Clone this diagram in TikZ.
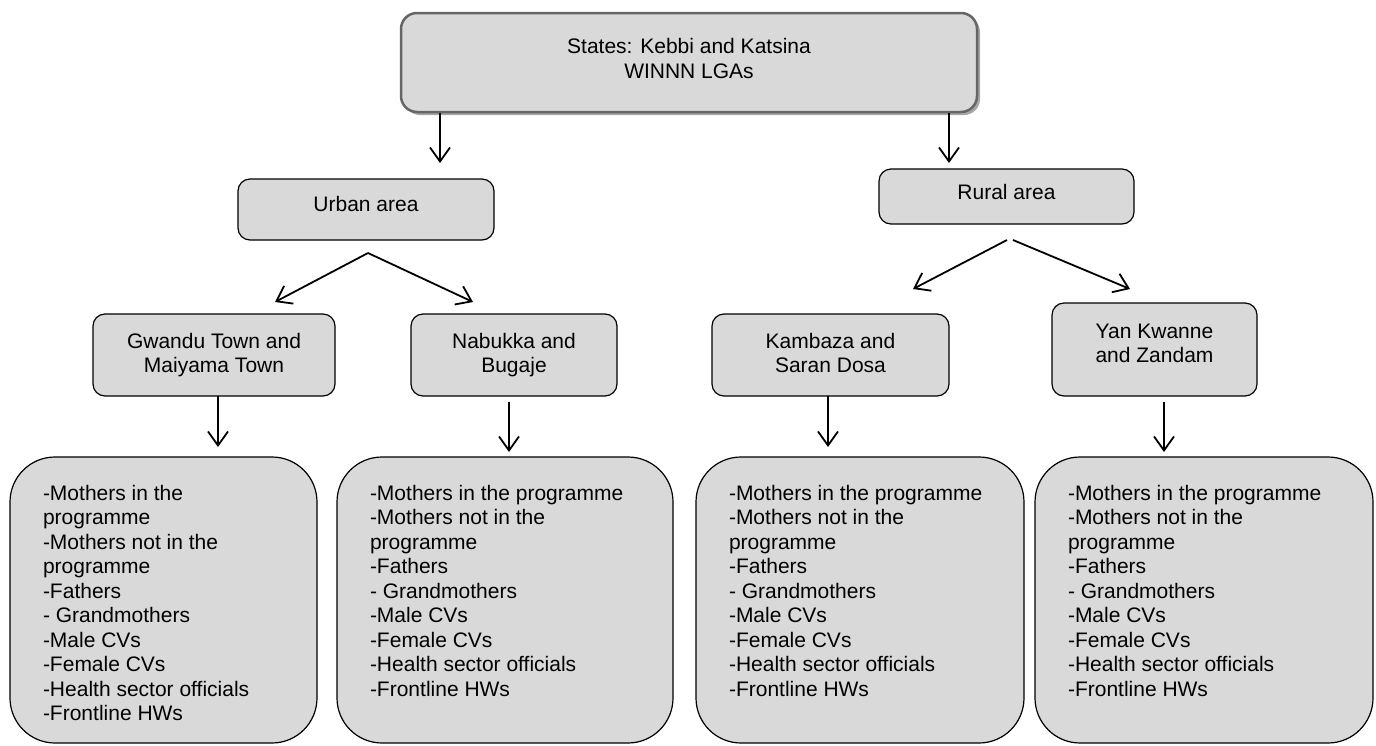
\documentclass[tikz,border=0pt]{standalone}
\usepackage{fontspec}
\setmainfont{Liberation Sans}
\usetikzlibrary{arrows.meta,shadows}
\definecolor{boxfill}{HTML}{D9D9D9}
\definecolor{topline}{HTML}{666666}
\definecolor{shadowc}{HTML}{A6A6A6}
\begin{document}
\begin{tikzpicture}[x=1pt,y=-1pt,
  every node/.style={font=\fontsize{21}{24.5}\selectfont, inner sep=0pt, outer sep=0pt},
  smallbox/.style={draw=black, line width=1.2pt, fill=boxfill, rounded corners=12pt},
  topbox/.style={draw=topline, line width=2.5pt, fill=boxfill, rounded corners=16pt},
  bigbox/.style={draw=black, line width=1.2pt, fill=boxfill, rounded corners=45pt},
  lbl/.style={align=center},
  lst/.style={align=left, anchor=north west},
  arr/.style={line width=1.8pt, -{Straight Barb[length=14pt,width=20pt,line width=1.8pt]}}
]
\useasboundingbox (0,0) rectangle (1376,745);

% shadow of the top box
\fill[shadowc, rounded corners=16pt] (404,16) rectangle (980,115);
% top box
\node[topbox, minimum width=576pt, minimum height=99pt, anchor=north west] (top) at (401,13) {};
\node[lbl] (toptxt) at (689,61.1) {\strut States: Kebbi and Katsina\\\strut WINNN LGAs};

% second level
\node[smallbox, minimum width=256pt, minimum height=61pt, anchor=north west] (urban) at (238,179) {};
\node[lbl] (urbantxt) at (366,206.6) {\strut Urban area};
\node[smallbox, minimum width=255pt, minimum height=55pt, anchor=north west] (rural) at (879,169) {};
\node[lbl] (ruraltxt) at (1006.5,194.6) {\strut Rural area};

% third level
\node[smallbox, minimum width=242pt, minimum height=82pt, anchor=north west] (gwandu) at (93,314) {};
\node[lbl] (gwandutxt) at (214,355.6) {\strut Gwandu Town and\\\strut Maiyama Town};
\node[smallbox, minimum width=206pt, minimum height=82pt, anchor=north west] (nabukka) at (411,314) {};
\node[lbl] (nabukkatxt) at (514,355.6) {\strut Nabukka and\\\strut Bugaje};
\node[smallbox, minimum width=237pt, minimum height=82pt, anchor=north west] (kambaza) at (712,314) {};
\node[lbl] (kambazatxt) at (830.5,355.6) {\strut Kambaza and\\\strut Saran Dosa};
\node[smallbox, minimum width=205pt, minimum height=93pt, anchor=north west] (yan) at (1052,303) {};
\node[lbl] (yantxt) at (1154.5,345.6) {\strut Yan Kwanne\\\strut and Zandam};

% bottom level
\node[bigbox, minimum width=307pt, minimum height=286pt, anchor=north west] (b1) at (10,457) {};
\node[lst] (b1txt) at (43,483.3) {\strut -Mothers in the\\\strut programme\\\strut -Mothers not in the\\\strut programme\\\strut -Fathers\\\strut - Grandmothers\\\strut -Male CVs\\\strut -Female CVs\\\strut -Health sector officials\\\strut -Frontline HWs};
\node[bigbox, minimum width=336pt, minimum height=286pt, anchor=north west] (b2) at (337,457) {};
\node[lst] (b2txt) at (370,483.3) {\strut -Mothers in the programme\\\strut -Mothers not in the\\\strut programme\\\strut -Fathers\\\strut - Grandmothers\\\strut -Male CVs\\\strut -Female CVs\\\strut -Health sector officials\\\strut -Frontline HWs};
\node[bigbox, minimum width=328pt, minimum height=286pt, anchor=north west] (b3) at (696,457) {};
\node[lst] (b3txt) at (729,483.3) {\strut -Mothers in the programme\\\strut -Mothers not in the\\\strut programme\\\strut -Fathers\\\strut - Grandmothers\\\strut -Male CVs\\\strut -Female CVs\\\strut -Health sector officials\\\strut -Frontline HWs};
\node[bigbox, minimum width=338pt, minimum height=286pt, anchor=north west] (b4) at (1035,457) {};
\node[lst] (b4txt) at (1068,483.3) {\strut -Mothers in the programme\\\strut -Mothers not in the\\\strut programme\\\strut -Fathers\\\strut - Grandmothers\\\strut -Male CVs\\\strut -Female CVs\\\strut -Health sector officials\\\strut -Frontline HWs};

% connector end points
\coordinate (a1s) at (440,113); \coordinate (a1e) at (440,163);
\coordinate (a2s) at (949,113); \coordinate (a2e) at (949,163);
\coordinate (ua) at (368,253); \coordinate (ul) at (275,302); \coordinate (ur) at (473,302);
\coordinate (ral) at (1007,240); \coordinate (rar) at (1013,240);
\coordinate (rl) at (913,289); \coordinate (rr) at (1130,289);
\coordinate (g1) at (218,396); \coordinate (g2) at (218,447);
\coordinate (n1) at (509,402); \coordinate (n2) at (509,452);
\coordinate (k1) at (828,396); \coordinate (k2) at (828,447);
\coordinate (y1) at (1164,402); \coordinate (y2) at (1164,452);

\draw[arr] (a1s) -- (a1e);
\draw[arr] (a2s) -- (a2e);
\draw[arr] (ua) -- (ul);
\draw[arr] (ua) -- (ur);
\draw[arr] (ral) -- (rl);
\draw[arr] (rar) -- (rr);
\draw[arr] (g1) -- (g2);
\draw[arr] (n1) -- (n2);
\draw[arr] (k1) -- (k2);
\draw[arr] (y1) -- (y2);
\end{tikzpicture}
\end{document}
